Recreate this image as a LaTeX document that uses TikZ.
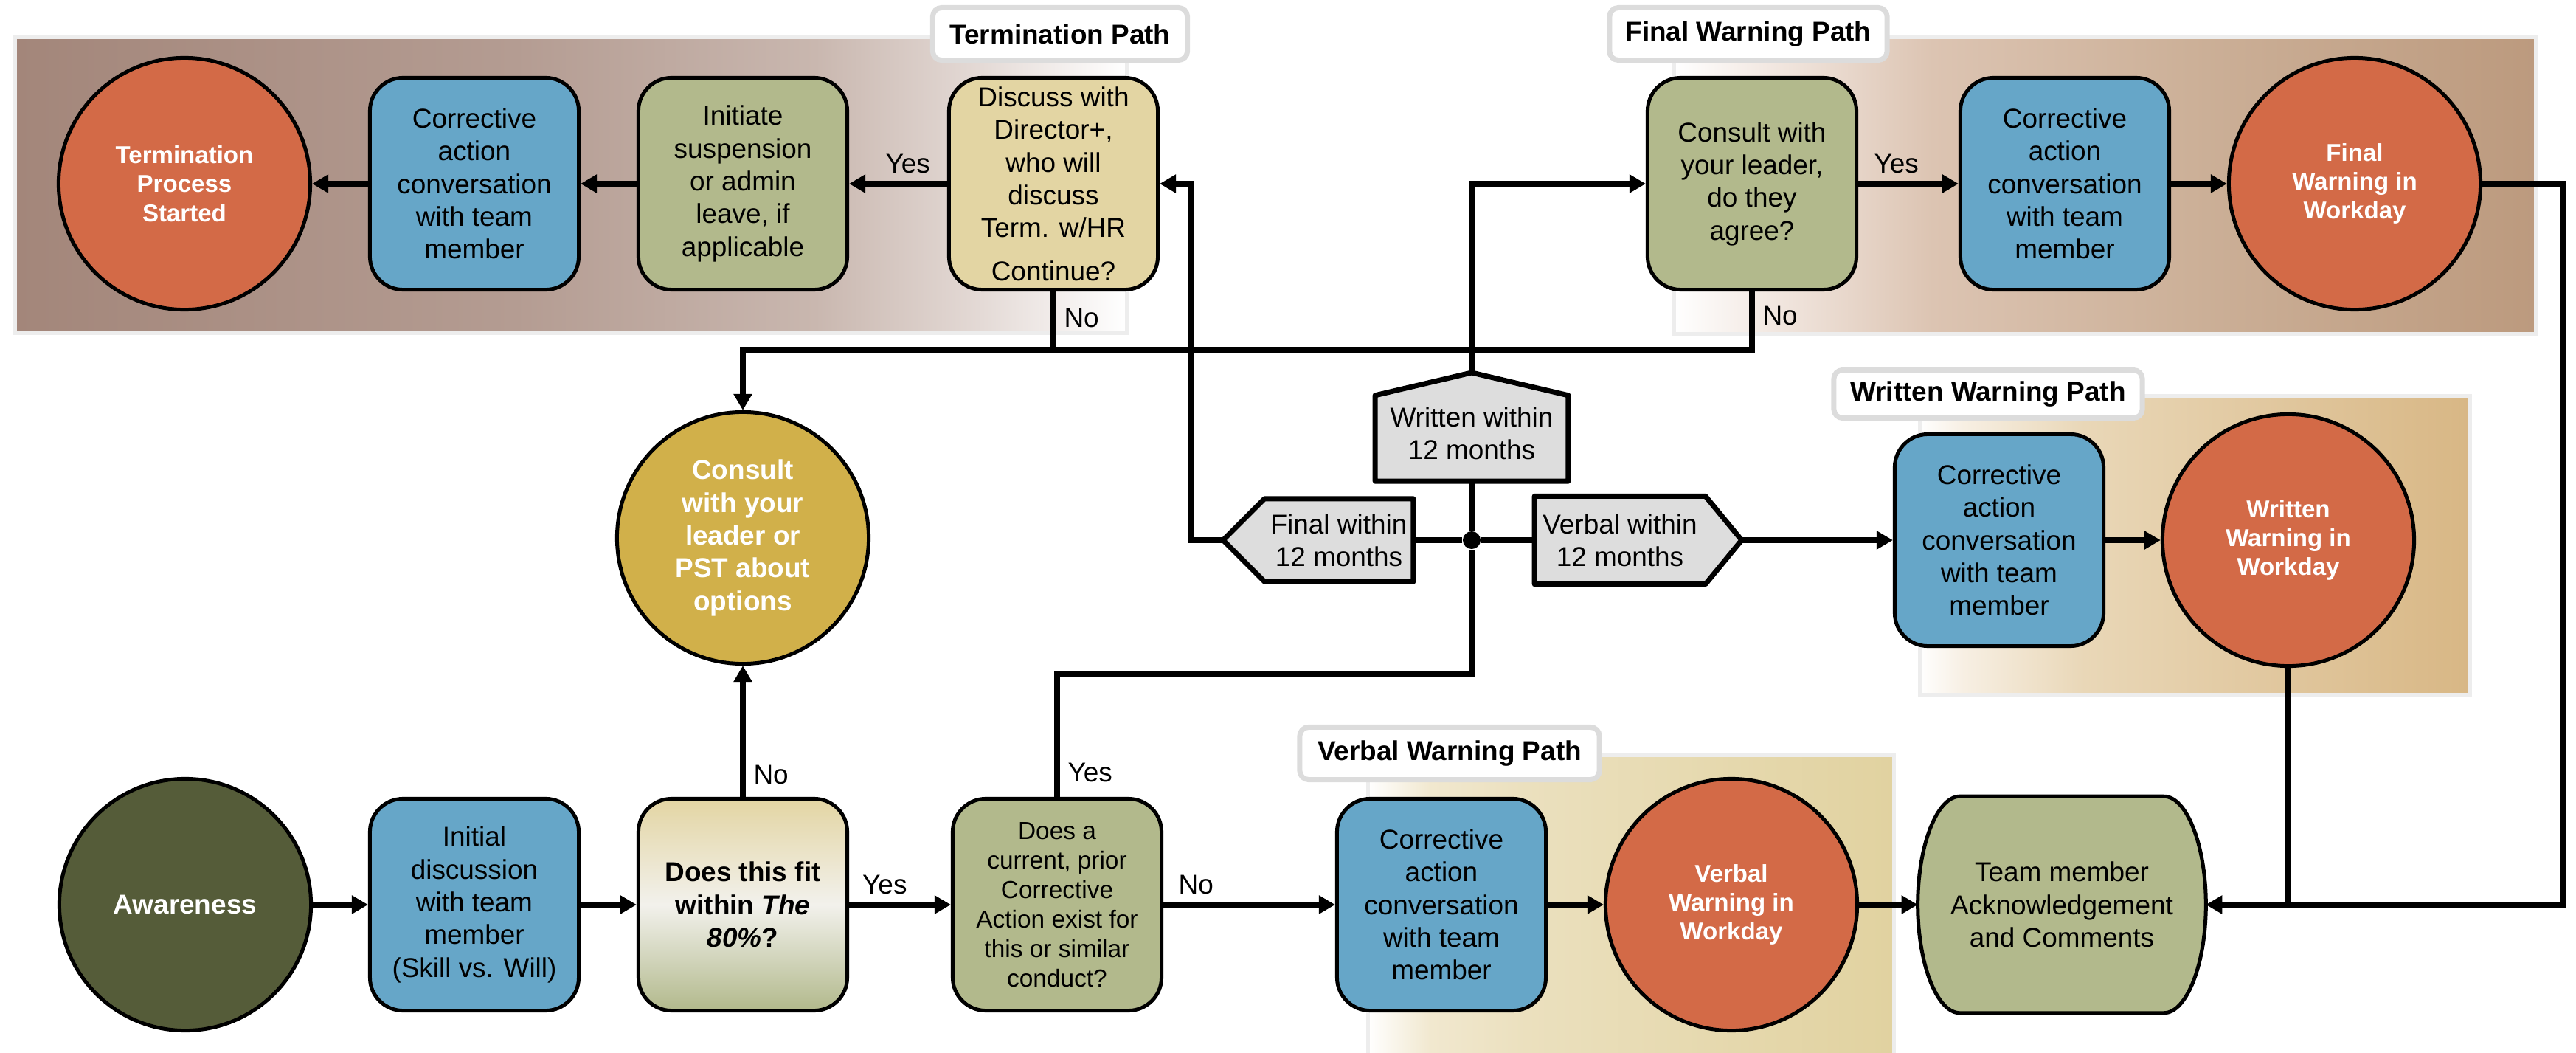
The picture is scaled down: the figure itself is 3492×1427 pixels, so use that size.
\documentclass[tikz,border=0pt]{standalone}
\usepackage{fontspec}
\setmainfont{Liberation Sans}
\usepackage{xcolor}
\usetikzlibrary{arrows.meta}

\definecolor{boxblue}{HTML}{66A6C8}
\definecolor{boxgreen}{HTML}{B2B98C}
\definecolor{boxtan}{HTML}{E3D5A3}
\definecolor{fitwhite}{HTML}{F2F1EC}
\definecolor{warnred}{HTML}{D36A47}
\definecolor{optgold}{HTML}{D1B04A}
\definecolor{startolive}{HTML}{555C39}
\definecolor{hexgray}{HTML}{DDDDDD}
\definecolor{framegray}{HTML}{EDEDED}
\definecolor{titlegray}{HTML}{DCDCDC}
% band colours
\definecolor{termA}{HTML}{A3867A}
\definecolor{termB}{HTML}{B49C92}
\definecolor{termC}{HTML}{C9B7AF}
\definecolor{termD}{HTML}{E4DAD6}
\definecolor{finalA}{HTML}{F1E6DF}
\definecolor{finalB}{HTML}{DCC4B2}
\definecolor{finalC}{HTML}{CCB098}
\definecolor{finalD}{HTML}{BC9A7E}
\definecolor{writA}{HTML}{F7EFE3}
\definecolor{writB}{HTML}{E9D7B7}
\definecolor{writC}{HTML}{D8B785}
\definecolor{verbA}{HTML}{F1E8CF}
\definecolor{verbB}{HTML}{EBE0BE}
\definecolor{verbC}{HTML}{E1D2A0}

\pgfdeclarehorizontalshading{termshade}{100bp}{color(0bp)=(termA); color(25bp)=(termA); color(47.5bp)=(termB); color(61bp)=(termC); color(68.5bp)=(termD); color(75bp)=(white); color(100bp)=(white)}
\pgfdeclarehorizontalshading{finalshade}{100bp}{color(0bp)=(white); color(25bp)=(white); color(31bp)=(finalA); color(40bp)=(finalB); color(55bp)=(finalC); color(75bp)=(finalD); color(100bp)=(finalD)}
\pgfdeclarehorizontalshading{writshade}{100bp}{color(0bp)=(white); color(25bp)=(white); color(29bp)=(writA); color(40bp)=(writB); color(75bp)=(writC); color(100bp)=(writC)}
\pgfdeclarehorizontalshading{verbshade}{100bp}{color(0bp)=(white); color(25bp)=(white); color(31bp)=(verbA); color(40bp)=(verbB); color(75bp)=(verbC); color(100bp)=(verbC)}

\pgfdeclarelayer{band}
\pgfdeclarelayer{shape}
\pgfsetlayers{band,shape,main}

\begin{document}
\begin{tikzpicture}[x=0.01cm,y=-0.01cm,
  boxnode/.style={draw, line width=0.05cm, rounded corners=0.45cm, minimum width=2.83cm, minimum height=2.87cm, align=center, inner sep=1pt, font=\fontsize{10.5}{12.6}\selectfont},
  bluebox/.style={boxnode, fill=boxblue},
  greenbox/.style={boxnode, fill=boxgreen},
  tanbox/.style={boxnode, fill=boxtan},
  roundnode/.style={circle, draw, line width=0.05cm, minimum size=3.41cm, align=center, inner sep=1pt, text=white, font=\bfseries\fontsize{9.4}{11.2}\selectfont},
  bigtext/.style={font=\bfseries\fontsize{10.5}{12.6}\selectfont},
  hexnode/.style={align=center, inner sep=0pt, font=\fontsize{10.5}{12.6}\selectfont},
  hexline/.style={fill=hexgray, line width=0.07cm, line join=round},
  band/.style={draw=framegray, line width=0.05cm},
  pathtitle/.style={draw=titlegray, fill=white, line width=0.07cm, rounded corners=0.12cm, minimum height=0.71cm, font=\bfseries\fontsize{10.5}{12.6}\selectfont},
  lbl/.style={inner sep=3pt, font=\fontsize{10.5}{12.6}\selectfont},
  conn/.style={line width=0.08cm},
  arr/.style={conn, -{Triangle[length=0.22cm,width=0.24cm]}}]

\useasboundingbox (0,0) rectangle (3492,1427);

% path bands
\begin{pgfonlayer}{band}
  \path[band, shading=termshade] (20,50) rectangle (1527,451);
  \path[band, shading=finalshade] (2269,50) rectangle (3437,452);
  \path[band, shading=writshade] (2602,536) rectangle (3348,941);
  \path[band, shading=verbshade] (1854,1023) rectangle (2567,1432);
\end{pgfonlayer}

\node[pathtitle, minimum width=3.45cm] (ttitle) at (1437,46) {Termination Path};
\node[pathtitle, minimum width=3.76cm] (ftitle) at (2370,46) {Final Warning Path};
\node[pathtitle, minimum width=4.18cm, minimum height=0.65cm] (wtitle) at (2695,534) {Written Warning Path};
\node[pathtitle, minimum width=4.06cm] (vtitle) at (1965,1021) {Verbal Warning Path};

% termination path
\node[roundnode, fill=warnred] (term) at (250,249) {Termination\\Process\\Started};
\node[bluebox] (tcorr) at (643,249) {Corrective\\action\\conversation\\with team\\member};
\node[greenbox] (tsusp) at (1007,249) {Initiate\\suspension\\or admin\\leave, if\\applicable};
\node[tanbox] (tdisc) at (1428,249) {Discuss with\\Director+,\\who will\\discuss\\Term. w/HR\\[4pt]Continue?};

% final warning path
\node[greenbox] (fcons) at (2375,249) {Consult with\\your leader,\\do they\\agree?};
\node[bluebox] (fcorr) at (2799,249) {Corrective\\action\\conversation\\with team\\member};
\node[roundnode, fill=warnred] (fwarn) at (3192,249) {Final\\Warning in\\Workday};

\node[roundnode, fill=optgold, bigtext] (consult) at (1007,729) {Consult\\with your\\leader or\\PST about\\options};

% lookups
\node[hexnode, minimum width=2.60cm, minimum height=1.15cm, text depth=0.14cm] (written) at (1995,594) {Written within\\12 months};
\node[hexnode, minimum width=2.00cm, minimum height=1.11cm] (final) at (1815,732) {Final within\\12 months};
\node[hexnode, minimum width=2.30cm, minimum height=1.18cm] (verbal) at (2196,732) {Verbal within\\12 months};
\coordinate (wpeak) at (1995,505);
\coordinate (ftip) at (1658,732);
\coordinate (vtip) at (2361,732);
\node[circle, fill, inner sep=0pt, minimum size=0.24cm] (jn) at (1995,732) {};

% written warning path
\node[bluebox] (wcorr) at (2710,732) {Corrective\\action\\conversation\\with team\\member};
\node[roundnode, fill=warnred] (wwarn) at (3102,732) {Written\\Warning in\\Workday};

% bottom row
\node[roundnode, fill=startolive, bigtext] (aware) at (251,1226) {Awareness};
\node[bluebox] (init) at (643,1226) {Initial\\discussion\\with team\\member\\(Skill vs. Will)};
\node[boxnode, top color=boxtan, bottom color=boxgreen, middle color=fitwhite, font=\bfseries\fontsize{10.5}{12.6}\selectfont] (fit) at (1007,1226) {Does this fit\\within \textit{The}\\\textit{80\%}?};
\node[greenbox, font=\fontsize{9.5}{11.4}\selectfont] (prior) at (1433,1226) {Does a\\current, prior\\Corrective\\Action exist for\\this or similar\\conduct?};
\node[bluebox] (vcorr) at (1954,1226) {Corrective\\action\\conversation\\with team\\member};
\node[roundnode, fill=warnred] (vwarn) at (2347,1226) {Verbal\\Warning in\\Workday};
\node[align=center, minimum width=3.89cm, minimum height=2.92cm, font=\fontsize{10.5}{12.6}\selectfont] (team) at (2795,1226) {Team member\\Acknowledgement\\and Comments};

% outlines under the texts
\begin{pgfonlayer}{shape}
  \draw[hexline] (written.south west) -- (written.north west) -- (wpeak) -- (written.north east) -- (written.south east) -- cycle;
  \draw[hexline] (final.north east) -- (final.north west) -- (ftip) -- (final.south west) -- (final.south east) -- cycle;
  \draw[hexline] (verbal.north west) -- (verbal.north east) -- (vtip) -- (verbal.south east) -- (verbal.south west) -- cycle;
  \draw[fill=boxgreen, line width=0.05cm] ([xshift=0.57cm]team.north west) -- ([xshift=-0.57cm]team.north east)
    .. controls ([xshift=-0.26cm]team.north east) and ([yshift=0.8cm]team.east) .. (team.east)
    .. controls ([yshift=-0.8cm]team.east) and ([xshift=-0.26cm]team.south east) .. ([xshift=-0.57cm]team.south east)
    -- ([xshift=0.57cm]team.south west)
    .. controls ([xshift=0.26cm]team.south west) and ([yshift=-0.8cm]team.west) .. (team.west)
    .. controls ([yshift=0.8cm]team.west) and ([xshift=0.26cm]team.north west) .. ([xshift=0.57cm]team.north west) -- cycle;
\end{pgfonlayer}

% top row connectors
\draw[arr] (tdisc.west) -- node[lbl, above, pos=0.4] {Yes} (tsusp.east);
\draw[arr] (tsusp.west) -- (tcorr.east);
\draw[arr] (tcorr.west) -- (term.east);
\draw[arr] (fcons.east) -- node[lbl, above, pos=0.38] {Yes} (fcorr.west);
\draw[arr] (fcorr.east) -- (fwarn.west);

% no branches
\coordinate (nobar) at (0,474);
\draw[conn] (tdisc.south) -- node[lbl, right, pos=0.45] {No} (tdisc.south |- nobar);
\draw[arr] (fcons.south) -- node[lbl, right, pos=0.42] {No} (fcons.south |- nobar) -| (consult.north);

% bottom row connectors
\draw[arr] (aware.east) -- (init.west);
\draw[arr] (init.east) -- (fit.west);
\draw[arr] (fit.east) -- node[lbl, above, pos=0.35] {Yes} (prior.west);
\draw[arr] (prior.east) -- node[lbl, above, pos=0.19] {No} (vcorr.west);
\draw[arr] (vcorr.east) -- (vwarn.west);
\draw[arr] (vwarn.east) -- (team.west);
\draw[arr] (fit.north) -- node[lbl, right, pos=0.17] {No} (consult.south);

% prior corrective action
\coordinate (lowbar) at (0,913);
\draw[conn] (prior.north) -- node[lbl, right, pos=0.2] {Yes} (prior.north |- lowbar) -| (jn);
\draw[conn] (jn) -- (written.south);
\draw[arr] (wpeak) |- (fcons.west);
\draw[conn] (jn) -- (final.east);
\draw[arr] (ftip) -| ([xshift=0.43cm]tdisc.east) -- (tdisc.east);
\draw[conn] (jn) -- (verbal.west);
\draw[arr] (vtip) -- (wcorr.west);
\draw[arr] (wcorr.east) -- (wwarn.west);

% into acknowledgement
\coordinate (rail) at (3474,0);
\draw[arr] (fwarn.east) -| (rail |- team.east) -- (team.east);
\draw[conn] (wwarn.south) -- (wwarn.south |- team.east);

\end{tikzpicture}
\end{document}
